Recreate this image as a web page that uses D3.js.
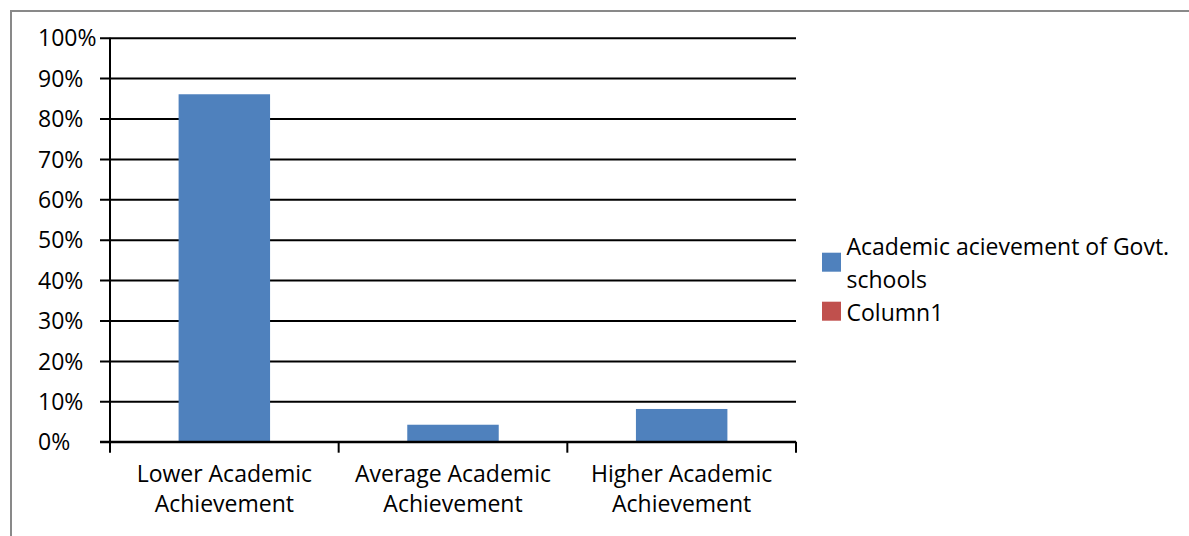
<!DOCTYPE html>
<html>
<head>
<meta charset="utf-8">
<script src="https://cdn.jsdelivr.net/npm/d3@7"></script>
<style>
  body { margin: 0; background: #fff; }
  svg { display: block; font-family: "Open Sans", sans-serif; }
</style>
</head>
<body>
<div id="chart"></div>
<script>
// data
var categories = ["Lower Academic Achievement", "Average Academic Achievement", "Higher Academic Achievement"];
var govtSchools = [0.86, 0.042, 0.081];
var column1 = [0, 0, 0];
var seriesNames = ["Academic acievement of Govt. schools", "Column1"];
var seriesColors = ["#4F81BD", "#C0504D"];
var yTicks = [0, 0.1, 0.2, 0.3, 0.4, 0.5, 0.6, 0.7, 0.8, 0.9, 1];

var W = 1189, H = 536;
var plot = {left: 110, right: 796, top: 37.7, bottom: 441.7};
var fontSize = "23px";

var svg = d3.select("#chart")
    .append("svg")
    .attr("width", W)
    .attr("height", H);

// outer chart border (runs off the right and bottom of the picture)
svg.append("rect")
    .attr("x", 11)
    .attr("y", 11)
    .attr("width", W + 20)
    .attr("height", H + 20)
    .attr("fill", "none")
    .attr("stroke", "#898989")
    .attr("stroke-width", 2);

var xScale = d3.scaleBand()
    .domain(categories)
    .range([plot.left, plot.right])
    .paddingInner(0.6)
    .paddingOuter(0.3);
var yScale = d3.scaleLinear()
    .domain([0, 1])
    .range([plot.bottom, plot.top]);

// y axis with gridlines
var yaxis = d3.axisLeft(yScale)
    .tickValues(yTicks)
    .tickFormat(d3.format(".0%"))
    .tickSize(-(plot.right - plot.left))
    .tickPadding(0);
var yg = svg.append("g")
    .attr("class", "y axis")
    .attr("transform", "translate(" + plot.left + ",0)")
    .call(yaxis);
yg.select(".domain").remove();
yg.selectAll(".tick line")
    .attr("x1", -10)
    .attr("stroke", "#000")
    .attr("stroke-width", 2);
yg.selectAll(".tick text")
    .attr("x", 38 - plot.left)
    .attr("dy", "0.36em")
    .attr("text-anchor", "start")
    .attr("fill", "#000")
    .style("font-size", fontSize)
    .style("font-family", "'Open Sans', sans-serif");

// bars
svg.selectAll("rect.bar")
    .data(govtSchools)
    .enter()
    .append("rect")
    .attr("class", "bar")
    .attr("x", function(d, i) { return xScale(categories[i]); })
    .attr("y", function(d) { return yScale(d); })
    .attr("width", xScale.bandwidth())
    .attr("height", function(d) { return yScale(0) - yScale(d); })
    .attr("fill", seriesColors[0]);

// axis lines
svg.append("line")
    .attr("x1", plot.left).attr("x2", plot.left)
    .attr("y1", plot.top).attr("y2", plot.bottom)
    .attr("stroke", "#000").attr("stroke-width", 2);
svg.append("line")
    .attr("x1", plot.left - 10).attr("x2", plot.right)
    .attr("y1", yScale(0)).attr("y2", yScale(0))
    .attr("stroke", "#000").attr("stroke-width", 2);

// category boundary ticks
var bounds = categories.map(function(c) { return xScale(c) - xScale.step() * 0.3; });
bounds.push(plot.right);
svg.selectAll("line.xtick")
    .data(bounds)
    .enter()
    .append("line")
    .attr("class", "xtick")
    .attr("x1", function(d) { return d; })
    .attr("x2", function(d) { return d; })
    .attr("y1", yScale(0))
    .attr("y2", yScale(0) + 11)
    .attr("stroke", "#000")
    .attr("stroke-width", 2);

// category labels, wrapped before the last word
var xl = svg.selectAll("text.xlabel")
    .data(categories)
    .enter()
    .append("text")
    .attr("class", "xlabel")
    .attr("text-anchor", "middle")
    .style("font-size", fontSize)
    .attr("fill", "#000");
xl.each(function(d) {
    var words = d.split(" ");
    var lines = [words.slice(0, -1).join(" "), words[words.length - 1]];
    var cx = xScale(d) + xScale.bandwidth() / 2;
    var t = d3.select(this);
    lines.forEach(function(l, j) {
        t.append("tspan")
            .attr("x", cx)
            .attr("y", 481.7 + j * 30.6)
            .text(l);
    });
});

// legend
var legendRows = [
    {lines: ["Academic acievement of Govt.", "schools"], y: 252.7},
    {lines: ["Column1"], y: 301.7}
];
legendRows.forEach(function(r, i) {
    svg.append("rect")
        .attr("x", 822)
        .attr("y", r.y)
        .attr("width", 19)
        .attr("height", 19)
        .attr("fill", seriesColors[i]);
});
var lt = svg.append("text")
    .style("font-size", fontSize)
    .attr("fill", "#000");
[["Academic acievement of Govt.", 255], ["schools", 288], ["Column1", 320.5]].forEach(function(p) {
    lt.append("tspan").attr("x", 846.5).attr("y", p[1]).text(p[0]);
});
</script>
</body>
</html>
